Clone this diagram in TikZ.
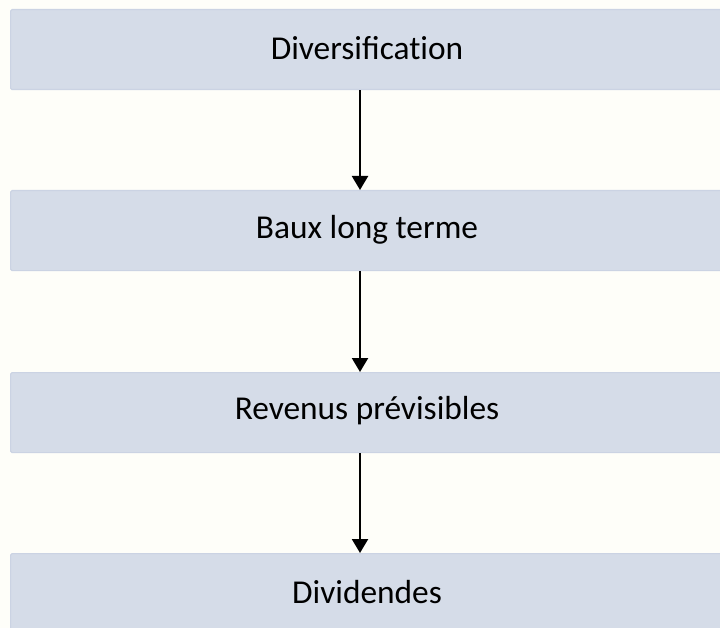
\documentclass[tikz,border=0pt]{standalone}
\usepackage{fontspec}
\setmainfont{Carlito}
\usetikzlibrary{arrows.meta}
\definecolor{bgc}{HTML}{FEFEF9}
\definecolor{boxfill}{HTML}{D5DCE8}
\definecolor{boxline}{HTML}{CBD3E3}
\begin{document}
\begin{tikzpicture}[x=1bp,y=-1bp,
  stepbox/.style={draw=boxline,line width=1.2bp,fill=boxfill,rounded corners=1.5bp,minimum width=712bp,minimum height=80bp,anchor=north west,inner sep=0pt},
  label/.style={font=\fontsize{33.5}{37}\selectfont,inner sep=0pt},
  flow/.style={line width=2.2bp,-{Triangle[width=16bp,length=14bp]}}]
\fill[bgc] (0,0) rectangle (720,628);
\useasboundingbox (0,0) rectangle (720,628);
\node[stepbox] (b1) at (10,9) {};
\node[stepbox] (b2) at (10,190) {};
\node[stepbox] (b3) at (10,372) {};
\node[stepbox] (b4) at (10,553) {};
\coordinate (ax) at (360,0);
\node[label] (t1) at (367,48) {Diversificat\kern0pt ion};
\node[label] (t2) at (367,230) {Baux long terme};
\node[label] (t3) at (367,411) {Revenus prévisibles};
\node[label] (t4) at (367,592) {Dividendes};
\draw[flow] (b1.south -| ax) -- (b2.north -| ax);
\draw[flow] (b2.south -| ax) -- (b3.north -| ax);
\draw[flow] (b3.south -| ax) -- (b4.north -| ax);
\end{tikzpicture}
\end{document}
